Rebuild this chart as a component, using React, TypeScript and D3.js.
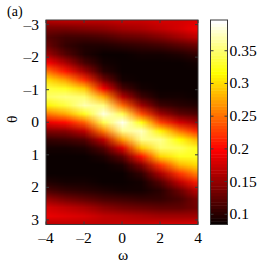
import React, { useMemo } from "react";
import * as d3 from "d3";

// ω columns of the map, each one sampled top→bottom in θ from -π to π (step π/12)
const omegaGrid = [-4, -3, -2, -1, 0, 1, 2, 3, 4];
const thetaStepsPerPi = 12;

const colOmegaM4 = [0.167, 0.136, 0.121, 0.129, 0.157, 0.201, 0.253, 0.302, 0.336, 0.344, 0.313, 0.253, 0.189, 0.139, 0.108, 0.093, 0.088, 0.086, 0.088, 0.095, 0.116, 0.150, 0.182, 0.190, 0.167];
const colOmegaM3 = [0.169, 0.136, 0.112, 0.107, 0.123, 0.158, 0.211, 0.273, 0.327, 0.354, 0.338, 0.278, 0.204, 0.144, 0.109, 0.093, 0.087, 0.086, 0.087, 0.092, 0.108, 0.137, 0.171, 0.185, 0.169];
const colOmegaM2 = [0.171, 0.141, 0.112, 0.097, 0.098, 0.116, 0.156, 0.219, 0.293, 0.352, 0.369, 0.326, 0.245, 0.168, 0.119, 0.096, 0.088, 0.086, 0.086, 0.090, 0.101, 0.126, 0.159, 0.179, 0.171];
const colOmegaM1 = [0.171, 0.146, 0.116, 0.097, 0.089, 0.090, 0.102, 0.134, 0.194, 0.279, 0.356, 0.385, 0.343, 0.256, 0.172, 0.119, 0.095, 0.087, 0.086, 0.088, 0.096, 0.116, 0.147, 0.171, 0.171];
const colOmega0 = [0.174, 0.155, 0.124, 0.100, 0.089, 0.086, 0.087, 0.093, 0.115, 0.166, 0.250, 0.342, 0.389, 0.359, 0.272, 0.183, 0.124, 0.097, 0.088, 0.087, 0.093, 0.110, 0.138, 0.167, 0.174];
const colOmegaP1 = [0.175, 0.162, 0.132, 0.105, 0.091, 0.086, 0.085, 0.086, 0.092, 0.110, 0.154, 0.231, 0.322, 0.377, 0.362, 0.292, 0.207, 0.142, 0.106, 0.092, 0.092, 0.104, 0.130, 0.160, 0.175];
const colOmegaP2 = [0.179, 0.172, 0.143, 0.113, 0.094, 0.087, 0.085, 0.085, 0.087, 0.093, 0.112, 0.156, 0.229, 0.312, 0.362, 0.352, 0.297, 0.224, 0.161, 0.120, 0.102, 0.104, 0.125, 0.157, 0.179];
const colOmegaP3 = [0.181, 0.182, 0.156, 0.122, 0.099, 0.089, 0.086, 0.085, 0.086, 0.090, 0.101, 0.128, 0.180, 0.252, 0.318, 0.345, 0.327, 0.280, 0.222, 0.169, 0.132, 0.117, 0.126, 0.154, 0.181];
const colOmegaP4 = [0.184, 0.192, 0.169, 0.133, 0.104, 0.091, 0.086, 0.085, 0.086, 0.088, 0.096, 0.116, 0.155, 0.214, 0.279, 0.323, 0.327, 0.303, 0.261, 0.213, 0.171, 0.143, 0.138, 0.157, 0.184];

const columns = [colOmegaM4, colOmegaM3, colOmegaM2, colOmegaM1, colOmega0, colOmegaP1, colOmegaP2, colOmegaP3, colOmegaP4];

const omegaTicks = [-4, -2, 0, 2, 4];
const thetaTicks = [-3, -2, -1, 0, 1, 2, 3];
const colorTicks = [0.1, 0.15, 0.2, 0.25, 0.3, 0.35];
const colorRange = [0.0844, 0.397];

const W = 266;
const H = 264;
const plot = { left: 46, right: 198, top: 20, bottom: 224.5 };
const cbar = { left: 210.5, right: 227.5 };
const font = "'Liberation Serif', 'Times New Roman', Times, serif";
const axisColor = "#3a3a3a";
const txt = { fontFamily: font, fontSize: 15.5, fill: "#000" };

// MATLAB hot(64)
function hot(i: number) {
  const r = i < 24 ? (i + 1) / 24 : 1;
  const g = i < 24 ? 0 : i < 48 ? (i - 23) / 24 : 1;
  const b = i < 48 ? 0 : (i - 47) / 16;
  return [Math.round(r * 255), Math.round(g * 255), Math.round(b * 255)];
}
const colorIndex = d3
  .scaleQuantize<number>()
  .domain(colorRange)
  .range(d3.range(64));

const minus = (v: number) => (v < 0 ? "\u2013" + Math.abs(v) : String(v));

export default function App() {
  const x = d3.scaleLinear().domain([-4, 4]).range([plot.left, plot.right]);
  const y = d3.scaleLinear().domain([-Math.PI, Math.PI]).range([plot.top, plot.bottom]);
  const yc = d3.scaleLinear().domain(colorRange).range([plot.bottom, plot.top]);

  const thetaGrid = d3.range(2 * thetaStepsPerPi + 1).map((k) => -Math.PI + (k * Math.PI) / thetaStepsPerPi);

  const href = useMemo(() => {
    const cv = document.createElement("canvas");
    cv.width = omegaGrid.length;
    cv.height = thetaGrid.length;
    const ctx = cv.getContext("2d")!;
    const img = ctx.createImageData(cv.width, cv.height);
    columns.forEach((col, i) => {
      col.forEach((v, k) => {
        const [r, g, b] = hot(colorIndex(Math.max(colorRange[0], Math.min(colorRange[1], v))));
        const p = (k * cv.width + i) * 4;
        img.data[p] = r;
        img.data[p + 1] = g;
        img.data[p + 2] = b;
        img.data[p + 3] = 255;
      });
    });
    ctx.putImageData(img, 0, 0);
    return cv.toDataURL();
  }, []);

  const dx = x(omegaGrid[1]) - x(omegaGrid[0]);
  const dy = y(thetaGrid[1]) - y(thetaGrid[0]);
  const levels = d3.range(64);
  const span = colorRange[1] - colorRange[0];

  return (
    <svg width={W} height={H} style={{ position: "absolute", left: 0, top: 0, background: "#fff" }}>
      <defs>
        <clipPath id="plotClip">
          <rect x={plot.left} y={plot.top} width={plot.right - plot.left} height={plot.bottom - plot.top} />
        </clipPath>
      </defs>
      <rect width={W} height={H} fill="#fff" />
      <g clipPath="url(#plotClip)">
        <image
          href={href}
          x={x(omegaGrid[0]) - dx / 2}
          y={y(thetaGrid[0]) - dy / 2}
          width={x(omegaGrid[omegaGrid.length - 1]) - x(omegaGrid[0]) + dx}
          height={y(thetaGrid[thetaGrid.length - 1]) - y(thetaGrid[0]) + dy}
          preserveAspectRatio="none"
          style={{ imageRendering: "auto" }}
        />
      </g>
      <rect x={plot.left} y={plot.top} width={plot.right - plot.left} height={plot.bottom - plot.top} fill="none" stroke={axisColor} strokeWidth={1} />
      {omegaTicks.map((t) => (
        <g key={"x" + t}>
          <line x1={x(t)} x2={x(t)} y1={plot.bottom} y2={plot.bottom - 3} stroke={axisColor} />
          <line x1={x(t)} x2={x(t)} y1={plot.top} y2={plot.top + 3} stroke={axisColor} />
          <text x={x(t)} y={242.5} textAnchor="middle" style={txt}>{minus(t)}</text>
        </g>
      ))}
      {thetaTicks.map((t) => (
        <g key={"y" + t}>
          <line x1={plot.left} x2={plot.left + 3} y1={y(t)} y2={y(t)} stroke={axisColor} />
          <line x1={plot.right} x2={plot.right - 3} y1={y(t)} y2={y(t)} stroke={axisColor} />
          <text x={39} y={y(t) + 5} textAnchor="end" style={txt}>{minus(t)}</text>
        </g>
      ))}
      <text x={123} y={259.5} textAnchor="middle" style={txt}>ω</text>
      <text transform={`translate(17,${(plot.top + plot.bottom) / 2 - 3}) rotate(-90)`} textAnchor="middle" style={txt}>θ</text>
      <text x={7} y={16} style={{ ...txt, fontSize: 14 }}>(a)</text>

      {levels.map((i) => {
        const v0 = colorRange[0] + (i / 64) * span;
        const v1 = colorRange[0] + ((i + 1) / 64) * span;
        const [r, g, b] = hot(i);
        return (
          <rect key={i} x={cbar.left} width={cbar.right - cbar.left} y={yc(v1)} height={yc(v0) - yc(v1) + 0.5} fill={`rgb(${r},${g},${b})`} />
        );
      })}
      <rect x={cbar.left} y={plot.top} width={cbar.right - cbar.left} height={plot.bottom - plot.top} fill="none" stroke={axisColor} />
      {colorTicks.map((t) => (
        <g key={"c" + t}>
          <line x1={cbar.right} x2={cbar.right - 3} y1={yc(t)} y2={yc(t)} stroke={axisColor} />
          <line x1={cbar.left} x2={cbar.left + 3} y1={yc(t)} y2={yc(t)} stroke={axisColor} />
          <text x={229.5} y={yc(t) + 5} style={txt}>{String(t)}</text>
        </g>
      ))}
    </svg>
  );
}
